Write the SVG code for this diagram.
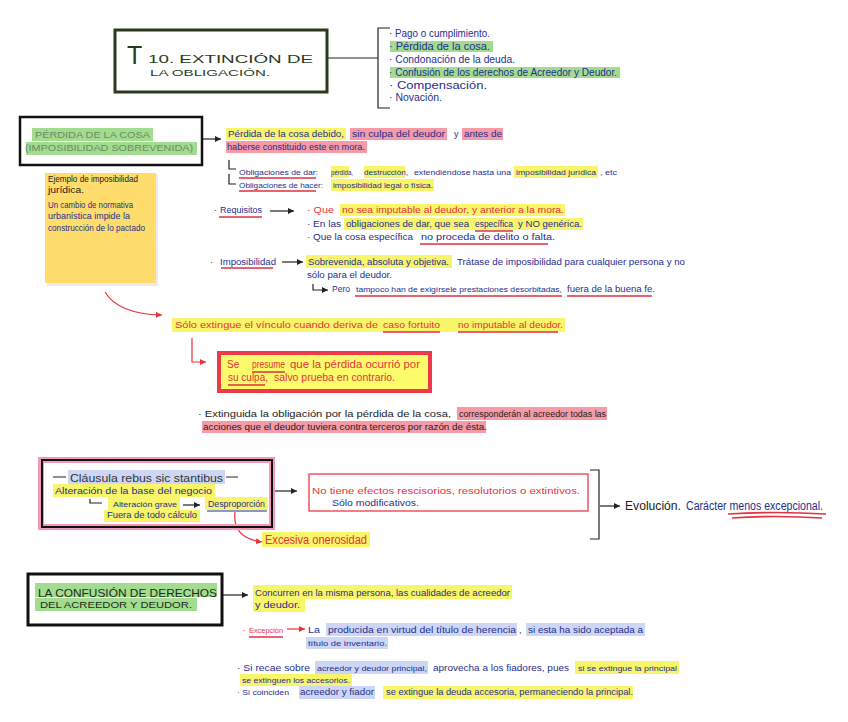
<svg xmlns="http://www.w3.org/2000/svg" width="848" height="722" viewBox="0 0 848 722">
<defs>
<style>
svg{font-family:"Liberation Sans",Arial,sans-serif;font-size:9px}
.b{fill:#1f2e8e}.r{fill:#e8323c}.k{fill:#222}.g{fill:#6a8a6a}.dg{fill:#2b3a1d}
.hy{fill:#f9f56a}.hp{fill:#f59aa6}.hg{fill:#a2dc8e}.hb{fill:#cdd7f5}
.ul{stroke:#e23140;stroke-width:1.6;fill:none}
.ulb{stroke:#1f2e8e;stroke-width:1.2;fill:none}
.ln{stroke:#222;stroke-width:1.2;fill:none}
.lr{stroke:#e8323c;stroke-width:1.2;fill:none}
</style>
<marker id="ak" markerWidth="7" markerHeight="7" refX="6" refY="3" orient="auto" markerUnits="userSpaceOnUse"><path d="M0,0 L6,3 L0,6 Z" fill="#222"/></marker>
<marker id="ar" markerWidth="7" markerHeight="7" refX="6" refY="3" orient="auto" markerUnits="userSpaceOnUse"><path d="M0,0 L6,3 L0,6 Z" fill="#e8323c"/></marker>
</defs>
<rect width="848" height="722" fill="#fff"/>

<g id="connectors">
<path class="ln" d="M327,58 H378"/>
<path class="ln" d="M390,28 H378 V108 H390"/>
<path class="ln" d="M202,139 H221" marker-end="url(#ak)"/>
<path class="ln" d="M229,160 V169 H236"/>
<path class="ln" d="M229,174 V184 H236"/>
<path class="ln" d="M270,211 H294" marker-end="url(#ak)"/>
<path class="ln" d="M282,262 H303" marker-end="url(#ak)"/>
<path class="ln" d="M313,284 V290 H328" marker-end="url(#ak)"/>
<path class="lr" d="M105,292 Q118,314 162,315" marker-end="url(#ar)"/>
<path class="lr" d="M192,338 V362 H206" marker-end="url(#ar)"/>
<path class="ln" d="M90,499 V503 H102"/>
<path class="ln" d="M183,505 H200" marker-end="url(#ak)"/>
<path class="lr" d="M235,512 Q232,538 262,542" marker-end="url(#ar)"/>
<path class="ln" d="M273,491 H297" marker-end="url(#ak)"/>
<path class="ln" d="M590,470 H599 V539 H590"/>
<path class="ln" d="M600,506 H620" marker-end="url(#ak)"/>
<path class="ln" d="M222,595 H248" marker-end="url(#ak)"/>
<path class="lr" d="M287,629 H305" marker-end="url(#ar)"/>
</g>

<g id="title">
<rect x="115" y="30" width="212" height="62" fill="none" stroke="#2b3a1d" stroke-width="3"/>
<text x="127" y="64" class="dg" font-size="25">T</text>
<text x="148" y="63" class="dg" font-size="11" textLength="165" lengthAdjust="spacingAndGlyphs">10. EXTINCIÓN DE</text>
<text x="150" y="76" class="dg" font-size="9.5" textLength="120" lengthAdjust="spacingAndGlyphs">LA OBLIGACIÓN.</text>
</g>

<g id="modos" font-size="10">
<rect class="hg" x="390" y="41" width="103" height="11"/>
<rect class="hg" x="390" y="67" width="230" height="11"/>
<text class="b" x="389" y="37" textLength="101" lengthAdjust="spacingAndGlyphs">· Pago o cumplimiento.</text>
<text class="b" x="389" y="50" textLength="101" lengthAdjust="spacingAndGlyphs">· Pérdida de la cosa.</text>
<text class="b" x="389" y="63" textLength="126" lengthAdjust="spacingAndGlyphs">· Condonación de la deuda.</text>
<text class="b" x="389" y="76" textLength="228" lengthAdjust="spacingAndGlyphs">· Confusión de los derechos de Acreedor y Deudor.</text>
<text class="b" x="389" y="89" textLength="98" lengthAdjust="spacingAndGlyphs">· Compensación.</text>
<text class="b" x="389" y="101" textLength="53" lengthAdjust="spacingAndGlyphs">· Novación.</text>
</g>

<g id="perdida">
<rect x="20" y="117" width="182" height="48" fill="none" stroke="#111" stroke-width="2.5"/>
<rect class="hg" x="32" y="128" width="121" height="13"/>
<rect class="hg" x="26" y="142" width="171" height="13"/>
<text class="g" x="35" y="138" font-size="9" textLength="115" lengthAdjust="spacingAndGlyphs">PÉRDIDA DE LA COSA</text>
<text class="g" x="25" y="151" font-size="9" textLength="168" lengthAdjust="spacingAndGlyphs">(IMPOSIBILIDAD SOBREVENIDA)</text>
</g>

<g id="nota">
<rect x="47" y="175" width="111" height="111" fill="#000" opacity="0.08"/>
<rect x="45" y="173" width="111" height="110" fill="#fedd6c"/>
<text class="k" x="48" y="182" textLength="90" lengthAdjust="spacingAndGlyphs">Ejemplo de imposibilidad</text>
<text class="k" x="48" y="193" textLength="36" lengthAdjust="spacingAndGlyphs">jurídica.</text>
<text class="b" x="48" y="208" textLength="85" lengthAdjust="spacingAndGlyphs">Un cambio de normativa</text>
<text class="b" x="48" y="219" textLength="82" lengthAdjust="spacingAndGlyphs">urbanística impide la</text>
<text class="b" x="48" y="231" textLength="97" lengthAdjust="spacingAndGlyphs">construcción de lo pactado</text>
</g>

<g id="definicion">
<rect class="hy" x="226" y="128" width="120" height="12"/>
<rect class="hp" x="350" y="128" width="97" height="12"/>
<rect class="hp" x="462" y="128" width="41" height="12"/>
<rect class="hp" x="226" y="141" width="141" height="12"/>
<text class="b" x="228" y="137" textLength="116" lengthAdjust="spacingAndGlyphs">Pérdida de la cosa debido,</text>
<text class="b" x="352" y="137" font-size="9.3" textLength="93" lengthAdjust="spacingAndGlyphs">sin culpa del deudor</text>
<text class="b" x="454" y="137">y</text>
<text class="b" x="464" y="137" font-size="9.5" textLength="38" lengthAdjust="spacingAndGlyphs">antes de</text>
<text class="b" x="227" y="150" font-size="8.5" textLength="138" lengthAdjust="spacingAndGlyphs">haberse constituido este en mora.</text>
<rect class="hy" x="331" y="166" width="18" height="12"/>
<rect class="hy" x="364" y="166" width="41" height="12"/>
<rect class="hy" x="514" y="166" width="84" height="12"/>
<rect class="hy" x="331" y="179" width="103" height="12"/>
<g font-size="8">
<text class="b" x="239" y="175" textLength="79" lengthAdjust="spacingAndGlyphs">Obligaciones de dar:</text>
<text class="b" x="331" y="175" textLength="22" lengthAdjust="spacingAndGlyphs">pérdida,</text>
<text class="b" x="364" y="175" textLength="44" lengthAdjust="spacingAndGlyphs">destrucción,</text>
<text class="b" x="414" y="175" textLength="97" lengthAdjust="spacingAndGlyphs">extendiéndose hasta una</text>
<text class="b" x="516" y="175" textLength="80" lengthAdjust="spacingAndGlyphs">imposibilidad jurídica</text>
<text class="b" x="600" y="175" textLength="17" lengthAdjust="spacingAndGlyphs">, etc</text>
<text class="b" x="239" y="188" textLength="84" lengthAdjust="spacingAndGlyphs">Obligaciones de hacer:</text>
<text class="b" x="333" y="188" textLength="100" lengthAdjust="spacingAndGlyphs">imposibilidad legal o física.</text>
</g>
<path class="ul" d="M239,178 H316 M239,191 H316"/>
</g>

<g id="requisitos">
<text class="k" x="214" y="213">·</text>
<text class="b" x="220" y="213" font-size="8.5" textLength="42" lengthAdjust="spacingAndGlyphs">Requisitos</text>
<path class="ul" d="M219,217 H262"/>
<rect class="hy" x="340" y="204" width="225" height="12"/>
<rect class="hy" x="344" y="218" width="239" height="12"/>
<text class="r" x="307" y="213" textLength="27" lengthAdjust="spacingAndGlyphs">· Que</text>
<text class="r" x="342" y="213" textLength="222" lengthAdjust="spacingAndGlyphs">no sea imputable al deudor, y anterior a la mora.</text>
<text class="b" x="307" y="227" font-size="8.5" textLength="34" lengthAdjust="spacingAndGlyphs">· En las</text>
<text class="b" x="346" y="227" font-size="8.7" textLength="123" lengthAdjust="spacingAndGlyphs">obligaciones de dar, que sea</text>
<text class="b" x="475" y="227" font-size="8.5" textLength="38" lengthAdjust="spacingAndGlyphs">específica</text>
<text class="b" x="518" y="227" textLength="64" lengthAdjust="spacingAndGlyphs">y NO genérica.</text>
<text class="b" x="307" y="240" font-size="8.7" textLength="106" lengthAdjust="spacingAndGlyphs">· Que la cosa específica</text>
<text class="b" x="421" y="240" textLength="134" lengthAdjust="spacingAndGlyphs">no proceda de delito o falta.</text>
<path class="ul" d="M475,231 H513 M420,244 H548"/>
</g>

<g id="imposibilidad" font-size="8.5">
<text class="k" x="210" y="265">·</text>
<text class="b" x="220" y="265" textLength="56" lengthAdjust="spacingAndGlyphs">Imposibilidad</text>
<path class="ul" d="M221,268 H273"/>
<rect class="hy" x="306" y="255" width="146" height="13"/>
<text class="b" x="308" y="265" textLength="141" lengthAdjust="spacingAndGlyphs">Sobrevenida, absoluta y objetiva.</text>
<text class="b" x="457" y="265" textLength="228" lengthAdjust="spacingAndGlyphs">Trátase de imposibilidad para cualquier persona y no</text>
<text class="b" x="307" y="278" textLength="85" lengthAdjust="spacingAndGlyphs">sólo para el deudor.</text>
<text class="b" x="332" y="292" textLength="18" lengthAdjust="spacingAndGlyphs">Pero</text>
<text class="b" x="356" y="292" font-size="7.8" textLength="206" lengthAdjust="spacingAndGlyphs">tampoco han de exigírsele prestaciones desorbitadas,</text>
<text class="b" x="567" y="292" font-size="8.2" textLength="88" lengthAdjust="spacingAndGlyphs">fuera de la buena fe.</text>
<path class="ul" d="M355,296 H562 M567,296 H652"/>
</g>

<g id="caso-fortuito" font-size="9.5">
<rect class="hy" x="172" y="318" width="393" height="14"/>
<text class="r" x="175" y="328" textLength="203" lengthAdjust="spacingAndGlyphs">Sólo extingue el vínculo cuando deriva de</text>
<text class="r" x="383" y="328" textLength="57" lengthAdjust="spacingAndGlyphs">caso fortuito</text>
<text class="r" x="458" y="328" textLength="105" lengthAdjust="spacingAndGlyphs">no imputable al deudor.</text>
<path class="ul" d="M383,332 H440 M458,332 H558"/>
</g>

<g id="presuncion" font-size="10">
<rect x="219" y="353" width="211" height="38" fill="#fbfb6c" stroke="#ee3a48" stroke-width="4"/>
<text class="r" x="227" y="368">Se</text>
<text class="r" x="252" y="368" textLength="33" lengthAdjust="spacingAndGlyphs">presume</text>
<text class="r" x="290" y="368" textLength="130" lengthAdjust="spacingAndGlyphs">que la pérdida ocurrió por</text>
<text class="r" x="228" y="381" textLength="40" lengthAdjust="spacingAndGlyphs">su culpa,</text>
<text class="r" x="274" y="381" textLength="121" lengthAdjust="spacingAndGlyphs">salvo prueba en contrario.</text>
<path class="ul" d="M252,372 H285 M228,385 H265"/>
</g>

<g id="extinguida">
<rect class="hp" x="457" y="407" width="150" height="13"/>
<rect class="hp" x="202" y="421" width="284" height="12"/>
<text class="k" x="198" y="417" font-size="9.3" textLength="253" lengthAdjust="spacingAndGlyphs">· Extinguida la obligación por la pérdida de la cosa,</text>
<text class="k" x="459" y="417" font-size="8.3" textLength="147" lengthAdjust="spacingAndGlyphs">corresponderán al acreedor todas las</text>
<text class="k" x="203" y="430" font-size="8.7" textLength="284" lengthAdjust="spacingAndGlyphs">acciones que el deudor tuviera contra terceros por razón de ésta.</text>
</g>

<g id="rebus">
<rect x="41" y="460" width="231" height="67" fill="none" stroke="#f29ab4" stroke-width="6"/>
<rect x="42" y="460" width="230" height="67" fill="none" stroke="#111" stroke-width="2"/>
<rect class="hb" x="68" y="470" width="157" height="14"/>
<rect class="hy" x="53" y="484" width="162" height="13"/>
<rect class="hy" x="108" y="497" width="72" height="13"/>
<rect class="hy" x="205" y="497" width="63" height="13"/>
<rect class="hy" x="104" y="510" width="96" height="12"/>
<path class="ln" d="M53,477 H66 M226,477 H238"/>
<text x="70" y="482" fill="#333" font-size="11" textLength="153" lengthAdjust="spacingAndGlyphs">Cláusula rebus sic stantibus</text>
<text class="b" x="55" y="494" font-size="9.5" textLength="157" lengthAdjust="spacingAndGlyphs">Alteración de la base del negocio</text>
<text class="b" x="113" y="507" font-size="8" textLength="64" lengthAdjust="spacingAndGlyphs">Alteración grave</text>
<text class="b" x="208" y="507" font-size="8.7" textLength="57" lengthAdjust="spacingAndGlyphs">Desproporción</text>
<path class="ulb" d="M207,511 H267"/>
<text class="b" x="107" y="518" font-size="8.6" textLength="90" lengthAdjust="spacingAndGlyphs">Fuera de todo cálculo</text>
</g>

<g id="onerosidad">
<rect class="hy" x="262" y="532" width="108" height="15"/>
<text class="r" x="265" y="544" font-size="12" textLength="102" lengthAdjust="spacingAndGlyphs">Excesiva onerosidad</text>
</g>

<g id="efectos">
<rect x="309" y="474" width="279" height="37" fill="none" stroke="#ee3a48" stroke-width="1.3"/>
<text class="r" x="312" y="494" font-size="9.8" textLength="268" lengthAdjust="spacingAndGlyphs">No tiene efectos rescisorios, resolutorios o extintivos.</text>
<text class="b" x="332" y="506" textLength="87" lengthAdjust="spacingAndGlyphs">Sólo modificativos.</text>
</g>

<g id="evolucion">
<text x="625" y="510" fill="#222" font-size="13" textLength="56" lengthAdjust="spacingAndGlyphs">Evolución.</text>
<text class="b" x="686" y="510" font-size="12" textLength="137" lengthAdjust="spacingAndGlyphs">Carácter menos excepcional.</text>
<path class="ul" d="M728,514 Q775,511 826,514 M732,518 Q775,515 822,518"/>
</g>

<g id="confusion">
<rect x="28" y="574" width="194" height="51" fill="none" stroke="#111" stroke-width="3"/>
<rect class="hg" x="35" y="583" width="182" height="14"/>
<rect class="hg" x="35" y="598" width="162" height="13"/>
<text fill="#1d2a1d" x="38" y="597" font-size="10.5" textLength="179" lengthAdjust="spacingAndGlyphs">LA CONFUSIÓN DE DERECHOS</text>
<text fill="#1d2a1d" x="40" y="608" font-size="9.5" textLength="152" lengthAdjust="spacingAndGlyphs">DEL ACREEDOR Y DEUDOR.</text>
</g>

<g id="concurren">
<rect class="hy" x="253" y="585" width="259" height="14"/>
<rect class="hy" x="253" y="599" width="52" height="13"/>
<text class="b" x="255" y="596" textLength="255" lengthAdjust="spacingAndGlyphs">Concurren en la misma persona, las cualidades de acreedor</text>
<text class="b" x="255" y="608" textLength="45" lengthAdjust="spacingAndGlyphs">y deudor.</text>
</g>

<g id="excepcion">
<text class="r" x="243" y="633">·</text>
<text class="r" x="249" y="633" font-size="7.8" textLength="34" lengthAdjust="spacingAndGlyphs">Excepción</text>
<path class="ul" d="M249,637 H283" stroke-width="2"/>
<rect class="hb" x="326" y="623" width="191" height="13"/>
<rect class="hb" x="526" y="623" width="119" height="13"/>
<rect class="hb" x="306" y="637" width="82" height="12"/>
<text class="b" x="308" y="633" textLength="12" lengthAdjust="spacingAndGlyphs">La</text>
<text class="b" x="328" y="633" textLength="188" lengthAdjust="spacingAndGlyphs">producida en virtud del título de herencia</text>
<text class="b" x="519" y="633">,</text>
<text class="b" x="528" y="633" font-size="8.8" textLength="115" lengthAdjust="spacingAndGlyphs">si esta ha sido aceptada a</text>
<text class="b" x="308" y="646" font-size="8" textLength="79" lengthAdjust="spacingAndGlyphs">título de inventario.</text>
</g>

<g id="fiadores">
<rect class="hb" x="315" y="661" width="113" height="13"/>
<rect class="hy" x="575" y="661" width="104" height="13"/>
<rect class="hy" x="240" y="674" width="112" height="12"/>
<rect class="hb" x="299" y="686" width="76" height="13"/>
<rect class="hy" x="383" y="686" width="250" height="13"/>
<text class="b" x="237" y="671" textLength="73" lengthAdjust="spacingAndGlyphs">· Si recae sobre</text>
<text class="b" x="317" y="671" font-size="8" textLength="110" lengthAdjust="spacingAndGlyphs">acreedor y deudor principal,</text>
<text class="b" x="433" y="671" textLength="136" lengthAdjust="spacingAndGlyphs">aprovecha a los fiadores, pues</text>
<text class="b" x="578" y="671" font-size="8" textLength="99" lengthAdjust="spacingAndGlyphs">si se extingue la principal</text>
<text class="b" x="242" y="683" font-size="8" textLength="108" lengthAdjust="spacingAndGlyphs">se extinguen los accesorios.</text>
<text class="b" x="237" y="695" font-size="8" textLength="52" lengthAdjust="spacingAndGlyphs">· Si coinciden</text>
<text class="b" x="300" y="695" font-size="8.7" textLength="74" lengthAdjust="spacingAndGlyphs">acreedor y fiador</text>
<text class="b" x="386" y="695" font-size="8.4" textLength="247" lengthAdjust="spacingAndGlyphs">se extingue la deuda accesoria, permaneciendo la principal.</text>
</g>
</svg>
